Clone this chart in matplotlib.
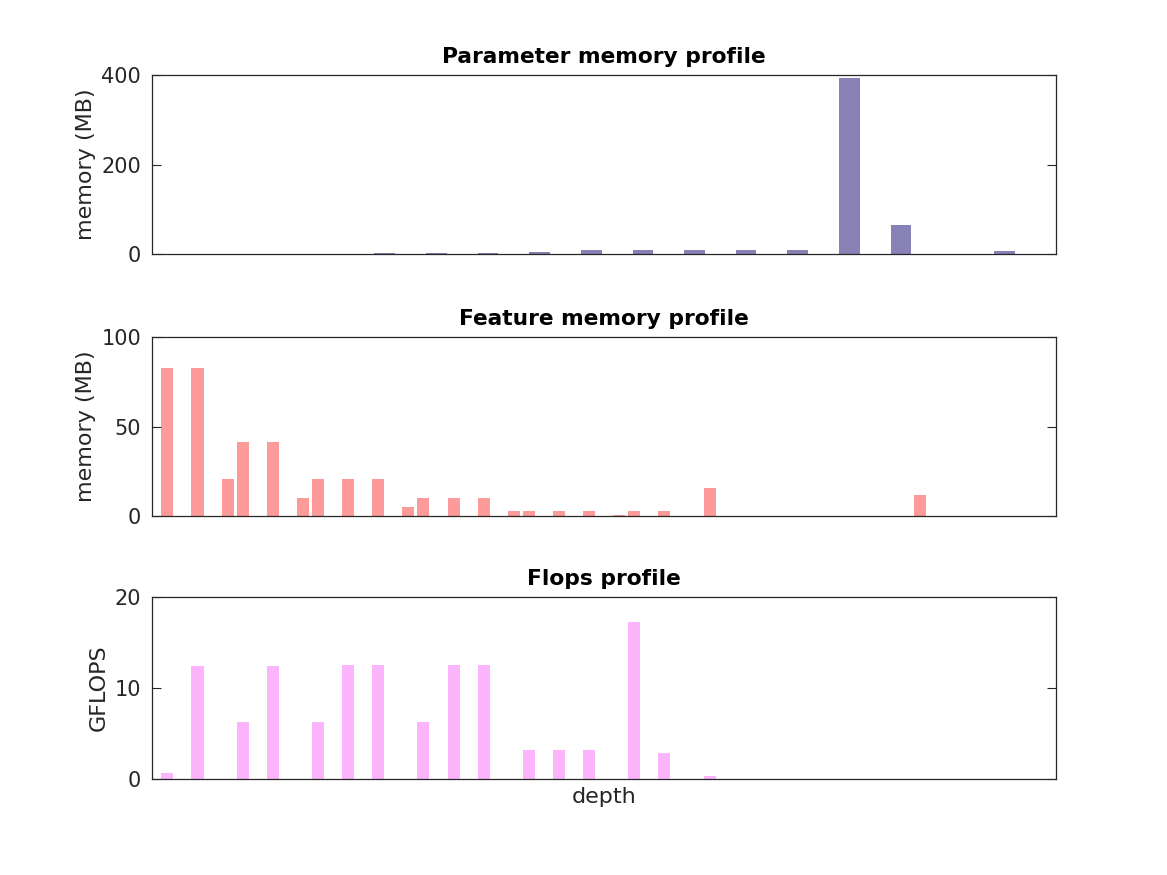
import matplotlib
matplotlib.use("Agg")
import matplotlib.pyplot as plt

# parameter memory per layer (MB), layers 1..34
param_pos = list(range(1, 35))
param_mb = [0, 0, 0, 0, 0, 0, 0, 0, 2.2, 0, 2.2, 0, 2.2, 0, 4.5, 0, 9.0,
            0, 9.0, 0, 9.0, 0, 9.0, 0, 9.0, 0, 394, 0, 65, 0, 0, 0, 6.7, 0]

# feature memory (MB) at depth positions
feat_pos = [1, 3, 5, 6, 8, 10, 11, 13, 15, 17, 18, 20, 22, 24, 25, 27, 29,
            31, 32, 34, 37, 51]
feat_mb = [82.8, 82.8, 20.7, 41.4, 41.4, 10.3, 20.7, 20.7, 20.7, 5.2, 10.3,
           10.3, 10.3, 2.6, 2.6, 2.6, 2.6, 0.65, 2.6, 2.6, 15.7, 11.8]

# GFLOPS at depth positions
flop_pos = [1, 3, 6, 8, 11, 13, 15, 18, 20, 22, 25, 27, 29, 32, 34, 37]
gflops = [0.66, 12.44, 6.28, 12.44, 6.28, 12.55, 12.55, 6.28, 12.55, 12.55,
          3.19, 3.19, 3.19, 17.3, 2.86, 0.33]

TXT = "#262626"
plt.rcParams["font.family"] = "DejaVu Sans"

fig = plt.figure(figsize=(11.67, 8.75), dpi=100)
ax1 = fig.add_axes([0.1305, 0.7097, 0.7744, 0.2042])
ax2 = fig.add_axes([0.1305, 0.4103, 0.7744, 0.2042])
ax3 = fig.add_axes([0.1305, 0.1097, 0.7744, 0.2077])


def style(ax, xlim, ylim, yticks, ylabel, title):
    ax.set_xlim(*xlim)
    ax.set_ylim(*ylim)
    ax.set_xticks([])
    ax.set_yticks(yticks)
    ax.tick_params(axis="y", direction="in", length=6.5, width=0.8,
                   right=True, labelsize=15, colors=TXT, labelcolor=TXT, pad=8)
    for s in ax.spines.values():
        s.set_color(TXT)
        s.set_linewidth(0.9)
    ax.set_ylabel(ylabel, fontsize=16, color=TXT, labelpad=4)
    ax.set_title(title, fontsize=15.7, fontweight="bold", color="black", pad=9)


ax1.bar(param_pos, param_mb, width=0.8, color="#8881b5")
style(ax1, (0, 35), (0, 400), [0, 200, 400], "memory (MB)",
      "Parameter memory profile")

ax2.bar(feat_pos, feat_mb, width=0.8, color="#ff9a9a")
style(ax2, (0, 60), (0, 100), [0, 50, 100], "memory (MB)",
      "Feature memory profile")

ax3.bar(flop_pos, gflops, width=0.8, color="#fcb4fc")
style(ax3, (0, 60), (0, 20), [0, 10, 20], "GFLOPS", "Flops profile")
ax3.set_xlabel("depth", fontsize=16, color=TXT, labelpad=6)

fig.savefig("out.png", dpi=100)
